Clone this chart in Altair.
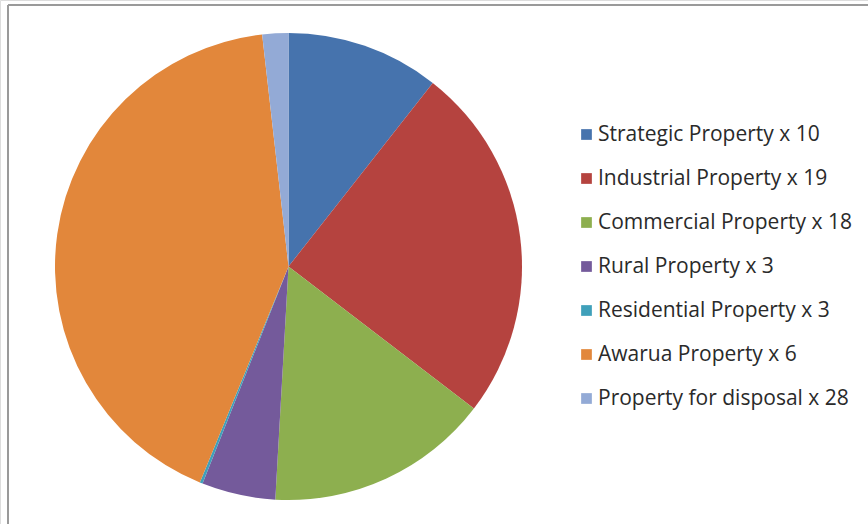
import altair as alt
import pandas as pd

categories = [
    "Strategic Property x 10",
    "Industrial Property x 19",
    "Commercial Property x 18",
    "Rural Property x 3",
    "Residential Property x 3",
    "Awarua Property x 6",
    "Property for disposal x 28",
]
shares = [10.6, 24.8, 15.5, 5.1, 0.2, 42.0, 1.8]
colors = ["#4673AD", "#B5433F", "#8DAF4F", "#745A9B", "#3FA0BA", "#E2873B", "#93AAD6"]

df = pd.DataFrame({"category": categories, "share": shares, "idx": list(range(len(categories)))})

W, H = 868, 524

pie = alt.Chart(df).mark_arc(radius=233.5, stroke=None).encode(
    theta=alt.Theta("share:Q", stack=True),
    order=alt.Order("idx:Q"),
    x=alt.value(288.5),
    y=alt.value(266.5),
    color=alt.Color(
        "category:N",
        sort=categories,
        scale=alt.Scale(domain=categories, range=colors),
        legend=alt.Legend(
            title=None,
            orient="none",
            legendX=576,
            legendY=124,
            symbolType="square",
            symbolSize=115,
            symbolStrokeWidth=0,
            labelFont="Open Sans",
            labelFontSize=21,
            labelColor="#2a2a2a",
            labelLimit=400,
            labelOffset=1,
            rowPadding=22,
        ),
    ),
)

border_df = pd.DataFrame({"k": [0]})
left_line = alt.Chart(border_df).mark_rule(color="#9a9a9a", strokeWidth=2).encode(
    x=alt.value(8), y=alt.value(5), y2=alt.value(H)
)
top_line = alt.Chart(border_df).mark_rule(color="#9a9a9a", strokeWidth=2).encode(
    x=alt.value(8), x2=alt.value(W), y=alt.value(5)
)

chart = alt.layer(pie, left_line, top_line).properties(
    width=W, height=H, padding=0, autosize=alt.AutoSizeParams(type="none")
).configure_view(stroke=None).configure(background="white")

chart.save("out.html", embed_options={"renderer": "svg", "actions": False})
